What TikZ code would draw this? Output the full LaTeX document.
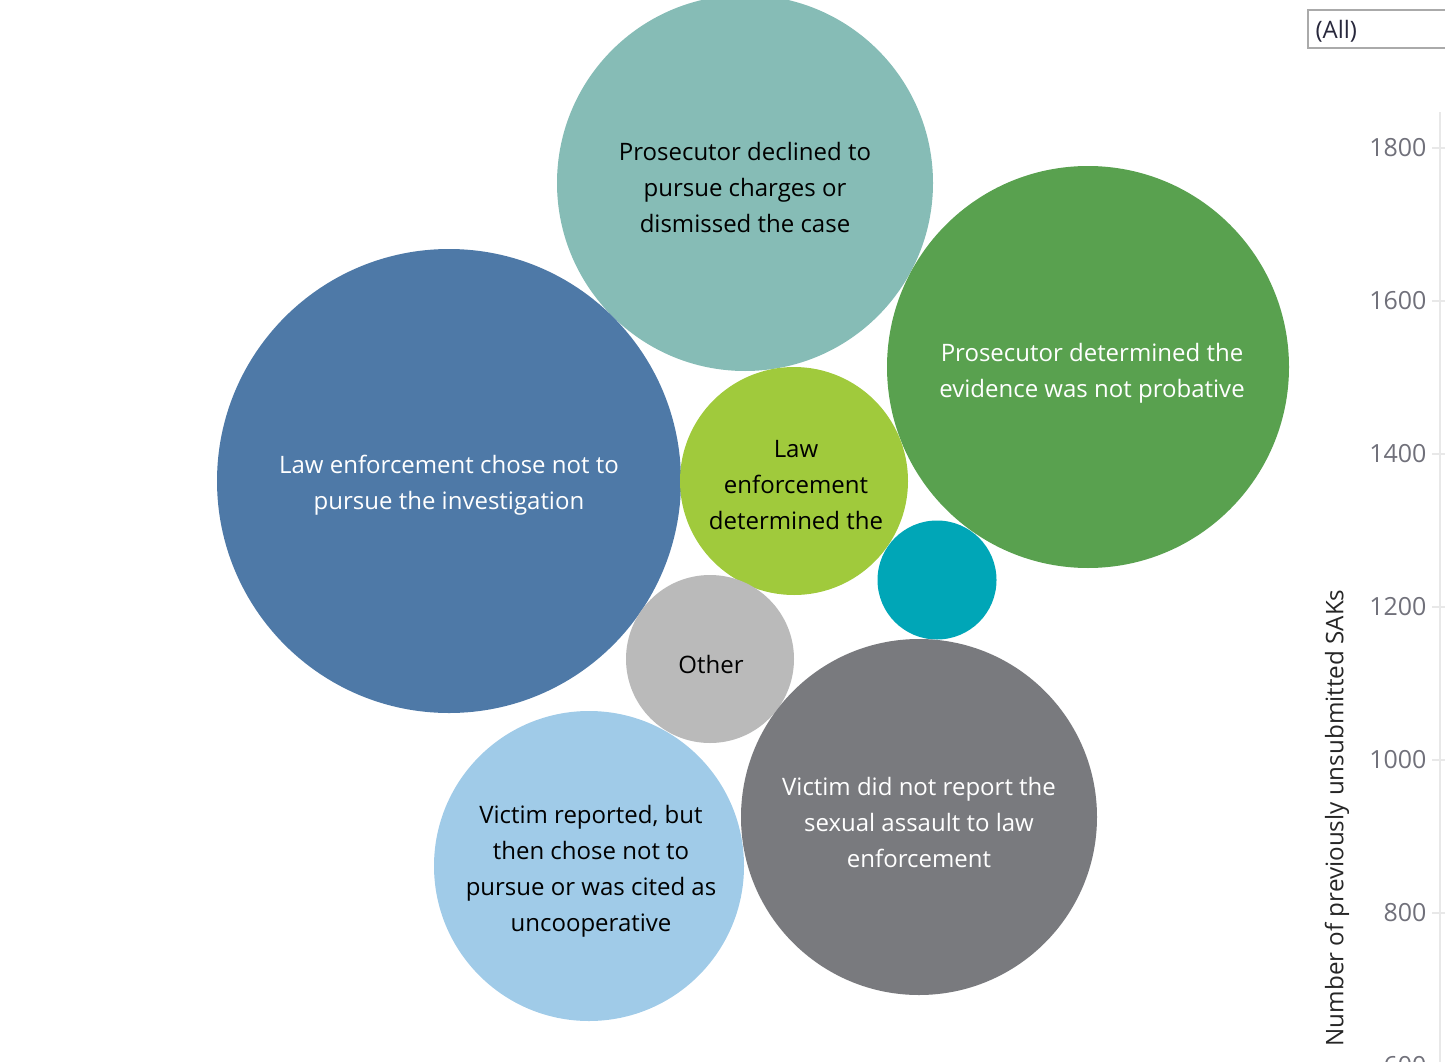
\documentclass[tikz,border=0pt]{standalone}
\usepackage{fontspec}
\setmainfont{Open Sans}
\tikzset{
  disc/.style={
    circle,
    inner sep=0pt
  },
  bubble/.style={
    inner sep=0pt,
    align=center,
    font=\fontsize{24}{36}\selectfont
  },
  bubble-dark/.style={
    bubble,
    text=white
  },
  bubble-light/.style={
    bubble,
    text=black
  },
  tick-label/.style={anchor=east, text=axisgray, font=\fontsize{25}{25}\selectfont},
  axis-line/.style={draw=gridgray, line width=1.2pt},
  filter-box/.style={draw=boxgray, line width=1.6pt}
}
\definecolor{prosdecl}{RGB}{134,188,182}
\definecolor{prosevid}{RGB}{89,161,79}
\definecolor{lawblue}{RGB}{78,121,167}
\definecolor{lawgreen}{RGB}{160,202,60}
\definecolor{smallteal}{RGB}{0,166,183}
\definecolor{othergray}{RGB}{186,186,186}
\definecolor{victimgray}{RGB}{121,122,126}
\definecolor{victimblue}{RGB}{160,203,232}
\definecolor{axisgray}{RGB}{112,112,122}
\definecolor{gridgray}{RGB}{232,232,232}
\definecolor{boxgray}{RGB}{170,170,170}

\begin{document}
\begin{tikzpicture}[x=1pt,y=-1pt]
  \useasboundingbox (0,0) rectangle (1445,1062);

  % Bubbles
  \node[disc, fill=prosdecl, minimum size=376pt] (prosdecl) at (745,183) {};
  \node[disc, fill=prosevid, minimum size=402pt] (prosevid) at (1088,367) {};
  \node[disc, fill=lawblue, minimum size=464pt] (lawchose) at (449,481) {};
  \node[disc, fill=lawgreen, minimum size=228pt] (lawdet) at (794,481) {};
  \node[disc, fill=smallteal, minimum size=119pt] (small) at (937,580) {};
  \node[disc, fill=othergray, minimum size=168pt] (other) at (710,659) {};
  \node[disc, fill=victimgray, minimum size=356pt] (vicnot) at (919,817) {};
  \node[disc, fill=victimblue, minimum size=310pt] (vicrep) at (589,866) {};

  % Bubble texts
  \node[bubble-light] (prosdecl-txt) at ([yshift=-4pt]prosdecl)
    {Prosecutor declined to\\pursue charges or\\dismissed the case};
  \node[bubble-dark] (prosevid-txt) at ([shift={(4pt,-6pt)}]prosevid)
    {Prosecutor determined the\\evidence was not probative};
  \node[bubble-dark] (lawchose-txt) at ([yshift=-4pt]lawchose)
    {Law enforcement chose not to\\pursue the investigation};
  \node[bubble-light] (lawdet-txt) at ([shift={(2pt,-4pt)}]lawdet)
    {Law\\enforcement\\determined the};
  \node[bubble-light] (other-txt) at ([shift={(1pt,-5pt)}]other) {Other};
  \node[bubble-dark] (vicnot-txt) at ([yshift=-5pt]vicnot)
    {Victim did not report the\\sexual assault to law\\enforcement};
  \node[bubble-light] (vicrep-txt) at ([shift={(2pt,-5pt)}]vicrep)
    {Victim reported, but\\then chose not to\\pursue or was cited as\\uncooperative};

  % Axis (right)
  \draw[axis-line] (1440,112) -- (1440,1062);
  \foreach \v in {1800,1600,1400,1200,1000,800,600}{
    \draw[axis-line] (1432,{148+(1800-\v)*0.765}) -- (1445,{148+(1800-\v)*0.765});
    \node[tick-label] (tick\v) at (1430,{148+(1800-\v)*0.765}) {\v};
  }
  \node[rotate=90, text=black!85, font=\fontsize{24.2}{24}\selectfont] (axistitle) at (1337,818)
    {Number of previously unsubmitted SAKs};

  % Filter
  \draw[filter-box] (1308,10) rectangle (1470,48);
  \node[anchor=west, text={rgb,255:red,40;green,40;blue,60}, font=\fontsize{24}{24}\selectfont] (filter) at (1312,31) {(All)};

\end{tikzpicture}
\end{document}
